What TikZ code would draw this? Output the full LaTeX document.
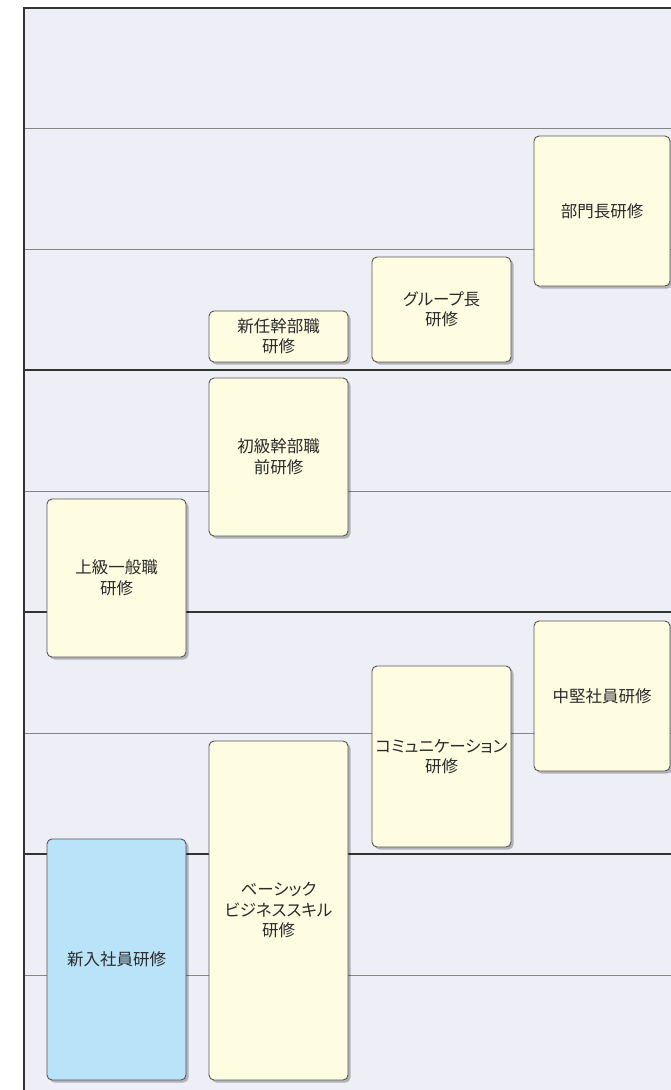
\documentclass[tikz,border=0pt]{standalone}
\usepackage{fontspec}
\newfontfamily\jp[RawFeature=+palt]{Noto Sans CJK JP}
\usetikzlibrary{shadows}
\definecolor{bg}{HTML}{EEEEF7}
\definecolor{boxy}{HTML}{FEFCE1}
\definecolor{boxb}{HTML}{B8E3F8}
\definecolor{lineth}{HTML}{333333}
\definecolor{linetn}{HTML}{858585}
\definecolor{txt}{HTML}{2A2A2A}
\definecolor{bord}{HTML}{555555}
\tikzset{
  course/.style={draw=bord, line width=0.9pt, fill=boxy, rounded corners=5pt,
    text=txt, align=center, inner sep=0pt,
    font=\jp\fontsize{16.5}{20.5}\selectfont,
    drop shadow={shadow xshift=2.5pt, shadow yshift=-2.5pt, fill=black, opacity=0.25}},
  thickln/.style={draw=lineth, line width=1.8pt},
  thinln/.style={draw=linetn, line width=0.9pt}
}
\begin{document}
\begin{tikzpicture}[x=1pt,y=-1pt]
\useasboundingbox (0,0) rectangle (671,1090);
\begin{scope}
\clip (0,0) rectangle (671,1090);
\fill[bg] (24,8) rectangle (680,1100);
% lanes
\coordinate (l0) at (24,128.3); \coordinate (r0) at (680,128.3);
\coordinate (l1) at (24,249.3); \coordinate (r1) at (680,249.3);
\coordinate (l2) at (24,370.3); \coordinate (r2) at (680,370.3);
\coordinate (l3) at (24,491.3); \coordinate (r3) at (680,491.3);
\coordinate (l4) at (24,612.3); \coordinate (r4) at (680,612.3);
\coordinate (l5) at (24,733.3); \coordinate (r5) at (680,733.3);
\coordinate (l6) at (24,854.3); \coordinate (r6) at (680,854.3);
\coordinate (l7) at (24,975.3); \coordinate (r7) at (680,975.3);
\draw[thinln] (l0) -- (r0);
\draw[thinln] (l1) -- (r1);
\draw[thickln] (l2) -- (r2);
\draw[thinln] (l3) -- (r3);
\draw[thickln] (l4) -- (r4);
\draw[thinln] (l5) -- (r5);
\draw[thickln] (l6) -- (r6);
\draw[thinln] (l7) -- (r7);
% frame
\coordinate (fb) at (24,1100);
\coordinate (ftl) at (24,8);
\coordinate (ftr) at (680,8);
\draw[thickln] (fb) -- (ftl) -- (ftr);
% courses
\node[course, minimum width=136pt, minimum height=150pt] (bumon) at (602,211) {部門長研修};
\node[course, minimum width=139pt, minimum height=105pt] (group) at (441.5,309.5) {グループ長\\研修};
\node[course, minimum width=139pt, minimum height=51pt] (shinnin) at (278.5,336.5) {新任幹部職\\研修};
\node[course, minimum width=139pt, minimum height=158pt] (shokyu) at (278.5,457) {初級幹部職\\前研修};
\node[course, minimum width=139pt, minimum height=158pt] (jokyu) at (116.5,578) {上級一般職\\研修};
\node[course, minimum width=139pt, minimum height=181pt] (comm) at (441.5,756.5) {コミュニケーション\\研修};
\node[course, minimum width=136pt, minimum height=150pt] (chuken) at (602,696) {中堅社員研修};
\node[course, fill=boxb, minimum width=139pt, minimum height=241pt] (shinnyu) at (116.5,959.5) {新入社員研修};
\node[course, minimum width=139pt, minimum height=339pt] (basic) at (278.5,910.5) {ベーシック\\ビジネススキル\\研修};
\end{scope}
\end{tikzpicture}
\end{document}
